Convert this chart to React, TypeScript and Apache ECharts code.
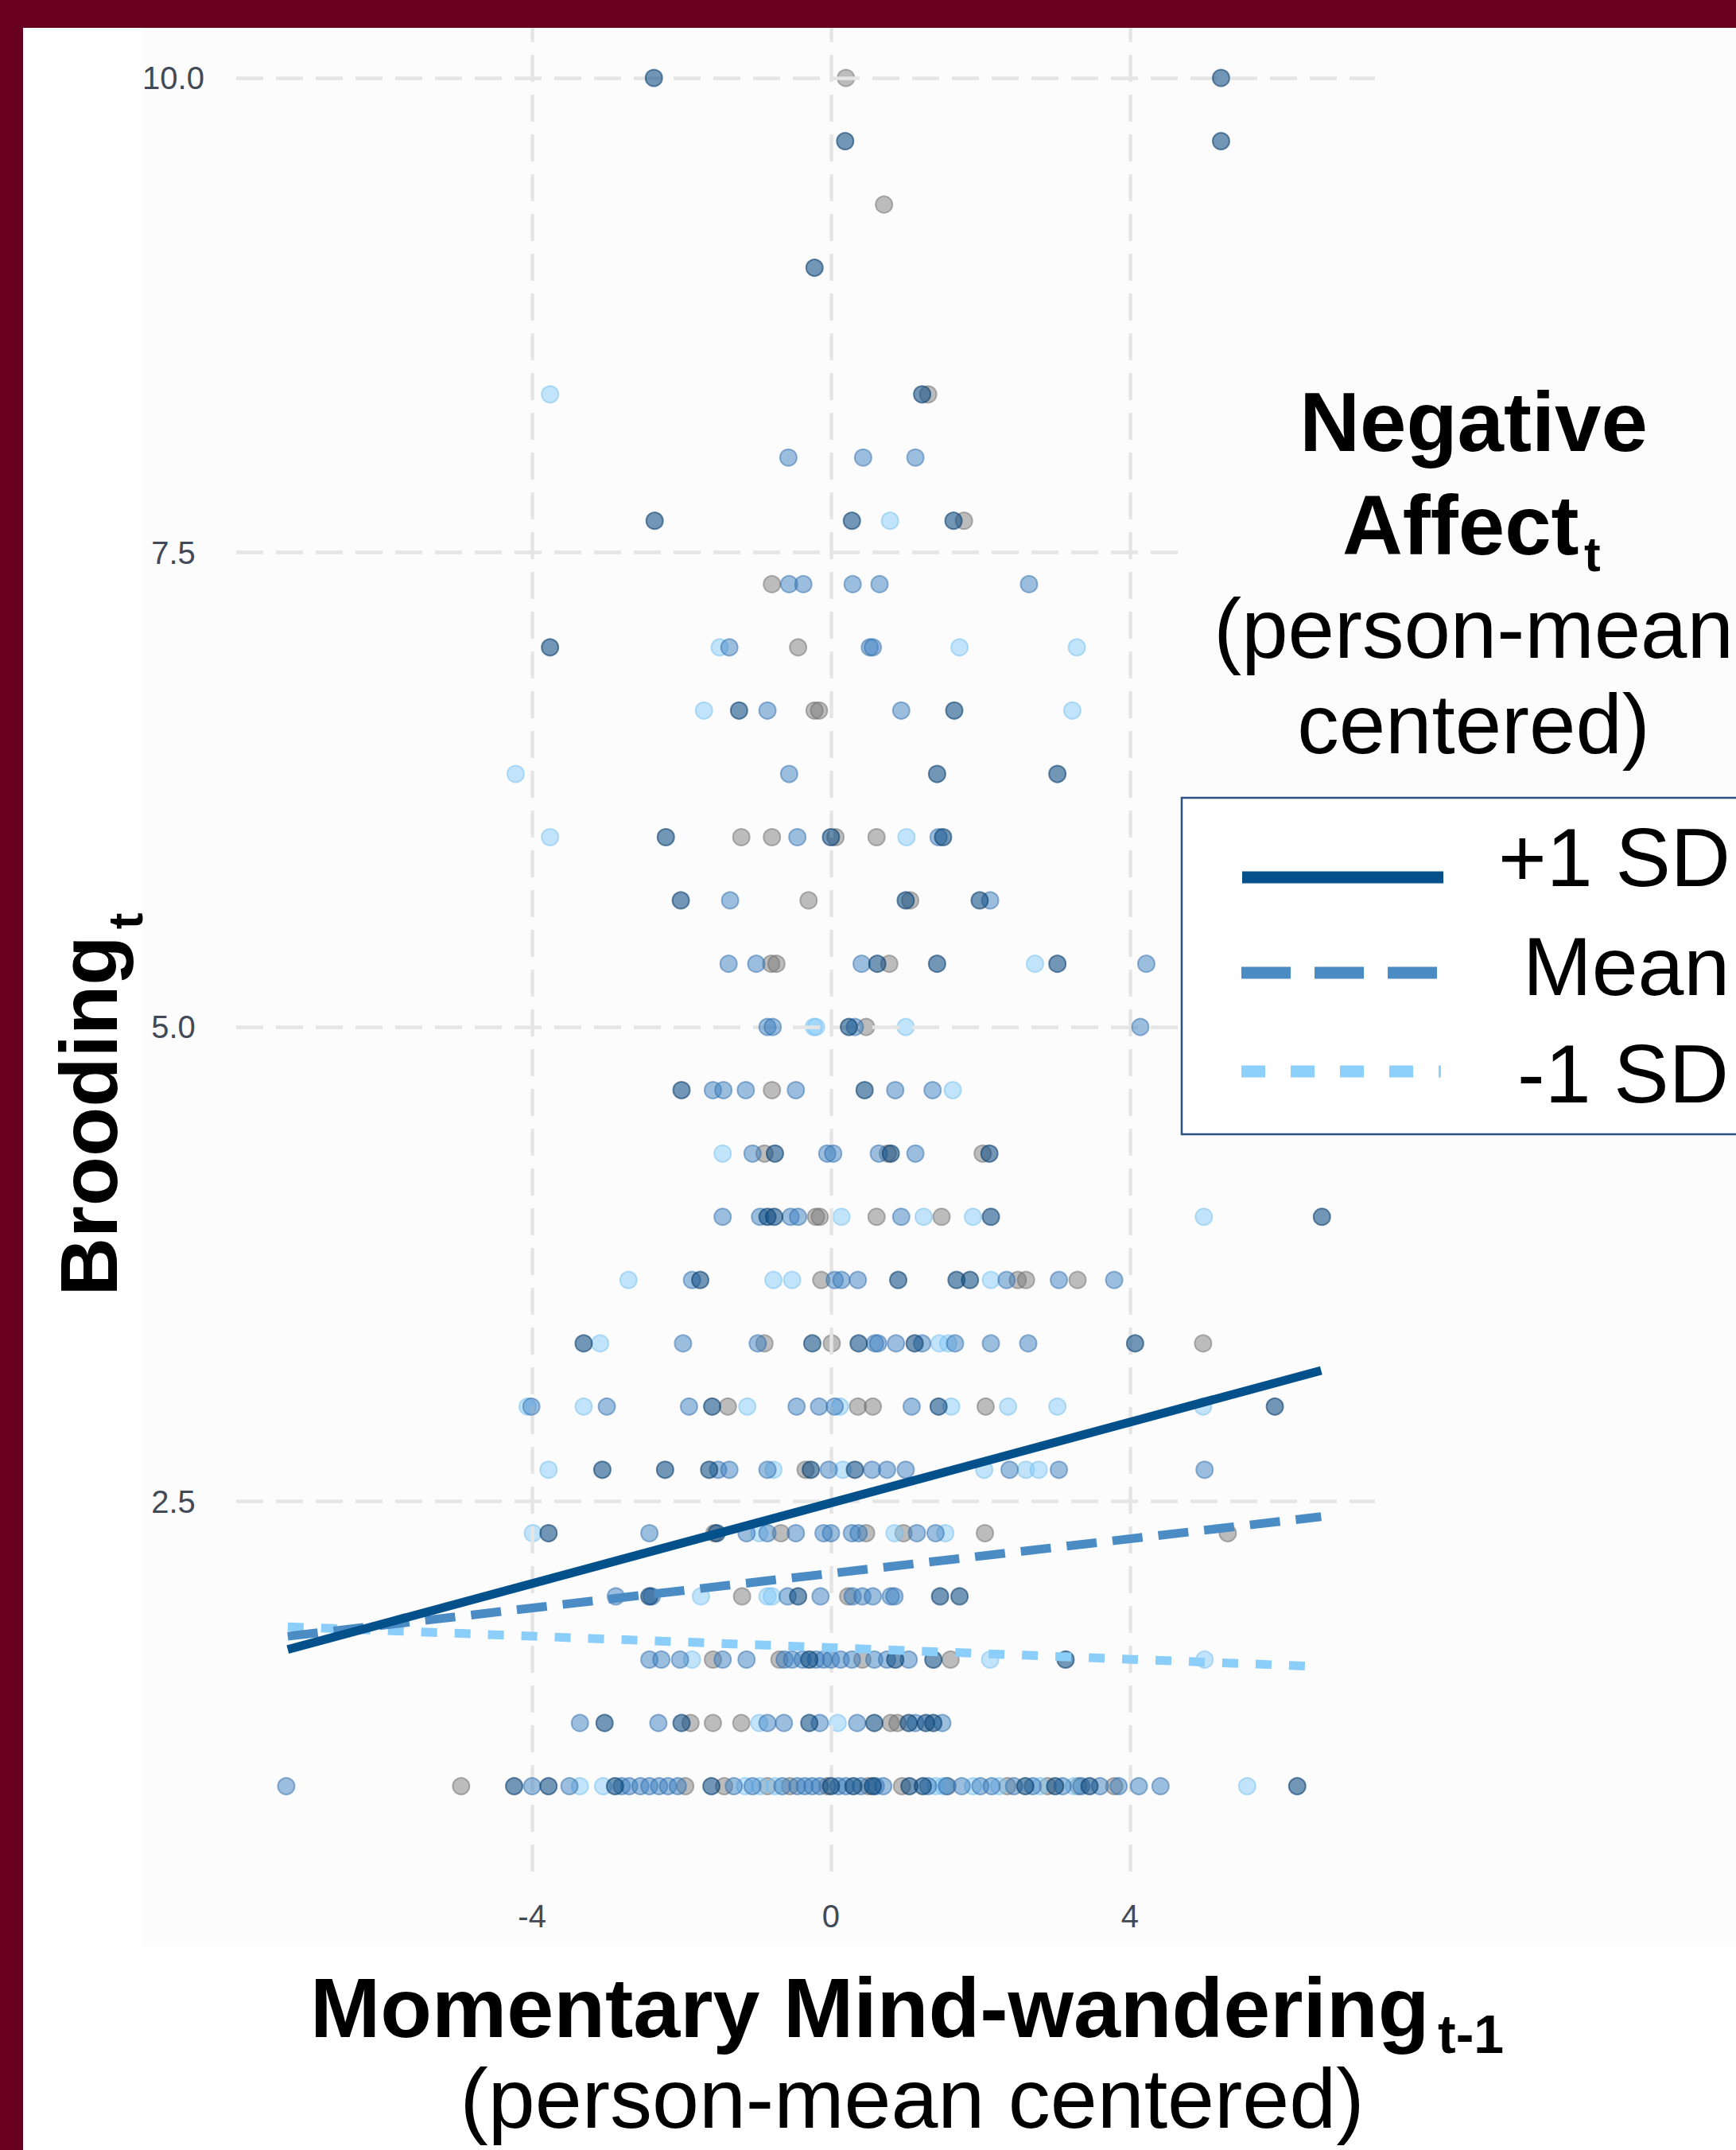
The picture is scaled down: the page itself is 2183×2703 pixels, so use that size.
import React, { useEffect, useRef } from "react";
import * as echarts from "echarts";

const W = 2183;
const H = 2703;

// ---- axes ----
const xTicks = [-4, 0, 4];
const yTicks = [2.5, 5, 7.5, 10];
const xRange = [-7.96, 7.28];
const yRange = [0.55, 10.264];

// ---- simple-slope lines (x, y endpoints) ----
const plusSDLine = [[-7.27, 1.72], [6.56, 3.19]];
const meanLine = [[-7.27, 1.79], [6.56, 2.42]];
const minusSDLine = [[-7.27, 1.84], [6.56, 1.63]];

// ---- points: [y level, x values] ----
const darkRows: [number, number[]][] = [
  [10, [-2.37, 5.22]],
  [9.667, [0.19, 5.22]],
  [9.0, [-0.22]],
  [8.333, [1.22]],
  [7.667, [-2.36, 0.28, 1.64]],
  [7.0, [-3.76]],
  [6.667, [-1.23, 1.65]],
  [6.333, [1.42, 3.03]],
  [6.0, [-2.21, 0.0, 1.5]],
  [5.667, [-2.01, 1.0, 1.99]],
  [5.333, [0.62, 1.42, 3.03]],
  [5.0, [0.24]],
  [4.667, [-2.0, 0.45]],
  [4.333, [-0.75, 0.8, 2.12]],
  [4.0, [-0.85, -0.76, 2.14, 6.57]],
  [3.667, [-1.75, 0.9, 1.68, 1.86]],
  [3.333, [-3.31, -0.25, 0.37, 1.12, 4.07]],
  [3.0, [-1.59, 1.44, 5.94]],
  [2.667, [-3.06, -2.22, -1.63, -0.27, 0.32]],
  [2.333, [-3.78, -1.53]],
  [2.0, [-2.43, -0.44, 1.46, 1.72]],
  [1.667, [-0.29, 0.86, 1.37, 3.14]],
  [1.333, [-3.03, -2.0, -0.29, 0.58, 1.04, 1.27, 1.37]],
  [1.0, [-4.24, -3.78, -2.89, -1.6, 0.0, 0.3, 0.56, 1.05, 1.23, 2.6, 3.0, 3.46, 6.24]],
];

const mediumRows: [number, number[]][] = [
  [8.0, [-0.57, 0.43, 1.13]],
  [7.333, [-0.56, -0.37, 0.29, 0.65, 2.65]],
  [7.0, [-1.36, 0.52, 0.56]],
  [6.667, [-0.85, 0.94]],
  [6.333, [-0.56]],
  [6.0, [-0.45, 1.44]],
  [5.667, [-1.35, 2.13]],
  [5.333, [-1.37, -1.0, 0.41, 4.22]],
  [5.0, [-0.85, -0.78, 0.32, 4.14]],
  [4.667, [-1.58, -1.44, -1.14, -0.47, 0.86, 1.36]],
  [4.333, [-1.05, -0.05, 0.03, 0.64, 1.13]],
  [4.0, [-1.45, -0.95, -0.54, -0.44, 0.94]],
  [3.667, [-1.86, 0.05, 0.14, 0.36, 2.35, 3.05, 3.79]],
  [3.333, [-1.98, -0.98, 0.59, 0.63, 0.87, 1.22, 1.66, 2.14, 2.64]],
  [3.0, [-4.01, -3.0, -1.9, -0.46, -0.16, 0.05, 1.08]],
  [2.667, [-1.51, -1.36, -0.85, -0.03, 0.55, 0.75, 1.0, 2.39, 3.05, 5.0]],
  [2.333, [-2.43, -1.13, -0.85, -0.47, -0.1, 0.0, 0.28, 0.37, 1.15, 1.4]],
  [2.0, [-2.88, -2.4, -0.58, -0.14, 0.29, 0.42, 0.56, 0.8, 0.85]],
  [1.667, [-2.43, -2.27, -2.02, -1.45, -1.13, -0.62, -0.52, -0.38, -0.2, -0.1, 0.0, 0.13, 0.28, 0.58, 0.75, 1.04]],
  [1.333, [-3.36, -2.31, -0.85, -0.63, -0.15, 0.35, 1.13, 1.49]],
  [1.0, [-7.29, -4.0, -3.5, -2.8, -2.7, -2.55, -2.43, -2.3, -2.18, -2.05, -1.3, -1.05, -0.65, -0.45, -0.35, -0.25, -0.15, 0.1, 0.2, 0.4, 0.6, 0.7, 1.3, 1.55, 1.75, 2.0, 2.15, 2.45, 2.7, 3.1, 3.35, 3.6, 3.85, 4.12, 4.41]],
];

const lightRows: [number, number[]][] = [
  [8.333, [-3.76]],
  [7.667, [0.79]],
  [7.0, [-1.49, 1.72, 3.29]],
  [6.667, [-1.7, 3.23]],
  [6.333, [-4.22]],
  [6.0, [-3.76, 1.01]],
  [5.333, [2.73]],
  [5.0, [-0.23, -0.2, 1.0]],
  [4.667, [1.63]],
  [4.333, [-1.45]],
  [4.0, [0.14, 1.24, 1.9, 4.99]],
  [3.667, [-2.71, -0.77, -0.52, 2.14]],
  [3.333, [-3.09, 1.45, 1.57]],
  [3.0, [-4.06, -3.31, -1.12, 0.12, 1.61, 2.37, 3.03, 4.98]],
  [2.667, [-3.78, -0.77, 0.16, 2.05, 2.61, 2.78]],
  [2.333, [-3.99, -0.96, 0.85, 1.53]],
  [2.0, [-1.74, -0.85, -0.79]],
  [1.667, [-1.86, 2.13, 5.0]],
  [1.333, [-0.96, 0.09]],
  [1.0, [-3.36, -3.05, -1.15, -0.95, -0.75, 1.4, 1.5, 1.9, 2.25, 2.8, 3.25, 5.57]],
];

const grayRows: [number, number[]][] = [
  [10, [0.2]],
  [9.333, [0.71]],
  [8.333, [1.3]],
  [7.667, [1.78]],
  [7.333, [-0.79]],
  [7.0, [-0.44]],
  [6.667, [-0.22, -0.16]],
  [6.0, [-1.2, -0.79, 0.06, 0.61]],
  [5.667, [-0.3, 1.06]],
  [5.333, [-0.8, -0.73, 0.78]],
  [5.0, [0.47]],
  [4.667, [-0.79]],
  [4.333, [-0.89, 0.76, 2.03]],
  [4.0, [-0.2, -0.15, 0.61, 1.48]],
  [3.667, [-0.13, 2.5, 2.61, 3.3]],
  [3.333, [-0.89, 0.01, 4.98]],
  [3.0, [-1.38, 0.36, 0.56, 2.07]],
  [2.667, [-0.34]],
  [2.333, [-1.56, -0.67, 0.47, 0.97, 2.06, 5.31]],
  [2.0, [-1.19, 0.23]],
  [1.667, [-1.58, -0.69, 0.42, 1.6]],
  [1.333, [-1.88, -1.58, -1.2, 0.8, 0.89]],
  [1.0, [-4.95, -1.95, -1.43, -0.85, -0.55, -0.05, 0.5, 0.95, 1.56, 2.36, 2.9, 3.31, 3.79]],
];

const legendLabels = ["+1 SD", "Mean", "-1 SD"];

function flatten(rows: [number, number[]][]) {
  const out: number[][] = [];
  rows.forEach(([y, xs]) => xs.forEach((x) => out.push([x, y])));
  return out;
}

const FONT = "'Liberation Sans', Arial, Helvetica, sans-serif";
const PANEL_BG = "#fcfcfc";

function scatter(name: string, rows: [number, number[]][], fill: string, stroke: string, z: number) {
  return {
    type: "scatter",
    name,
    data: flatten(rows),
    symbol: "circle",
    symbolSize: 21,
    z,
    silent: true,
    itemStyle: { color: fill, borderColor: stroke, borderWidth: 2 },
  };
}

function slope(name: string, data: number[][], color: string, width: number, type: any) {
  return {
    type: "line",
    name,
    data,
    showSymbol: false,
    symbol: "none",
    silent: true,
    z: 10,
    lineStyle: { color, width, type, cap: "butt" },
  };
}

function txt(
  text: string,
  x: number,
  y: number,
  size: number,
  bold: boolean,
  align: string,
  extra: any = {},
  lineHeight?: number
) {
  return {
    type: "text",
    z: 52,
    x,
    y,
    silent: true,
    ...extra,
    style: {
      text,
      fontSize: size,
      fontWeight: bold ? "bold" : "normal",
      fontFamily: FONT,
      fill: "#000",
      align,
      verticalAlign: "middle",
      lineHeight: lineHeight ?? size,
    },
  };
}

export default function App() {
  const ref = useRef<HTMLDivElement>(null);

  useEffect(() => {
    document.body.style.margin = "0";
    if (!ref.current) return;
    const chart = echarts.init(ref.current, undefined, { renderer: "svg" });

    const gridStyle = { color: "#e5e5e5", width: 4.5, type: [34, 16] };

    const option: any = {
      animation: false,
      backgroundColor: "#ffffff",
      grid: { left: 297, right: W - 1729, top: 35, bottom: H - 2353, containLabel: false },
      xAxis: {
        type: "value",
        min: xRange[0],
        max: xRange[1],
        axisLine: { show: false },
        axisTick: { show: false },
        splitLine: { show: false },
        axisLabel: {
          customValues: xTicks,
          formatter: (v: number) => String(v),
          fontSize: 40,
          fontFamily: FONT,
          color: "#414a56",
          margin: 36,
        },
      },
      yAxis: {
        type: "value",
        min: yRange[0],
        max: yRange[1],
        axisLine: { show: false },
        axisTick: { show: false },
        splitLine: { show: false },
        axisLabel: {
          customValues: yTicks,
          formatter: (v: number) => v.toFixed(1),
          fontSize: 40,
          fontFamily: FONT,
          color: "#414a56",
          align: "center",
          margin: 79,
        },
      },
      series: [
        {
          type: "scatter",
          name: "grid",
          data: [],
          silent: true,
          z: 1,
          markLine: {
            silent: true,
            symbol: ["none", "none"],
            label: { show: false },
            lineStyle: gridStyle,
            emphasis: { disabled: true },
            data: [
              ...yTicks.map((v) => ({ yAxis: v })),
              ...xTicks.map((v) => ({ xAxis: v })),
            ],
          },
        },
        scatter("gray", grayRows, "rgba(119,119,119,0.6)", "rgba(105,105,105,0.62)", 3),
        scatter("light", lightRows, "rgba(127,202,248,0.58)", "rgba(105,185,238,0.58)", 4),
        scatter("medium", mediumRows, "rgba(58,127,192,0.62)", "rgba(42,105,170,0.62)", 5),
        scatter("dark", darkRows, "rgba(13,74,128,0.72)", "rgba(8,60,108,0.74)", 6),
        slope(legendLabels[2], minusSDLine, "#8ccefa", 11, [20, 22]),
        slope(legendLabels[1], meanLine, "#4b8cc5", 11, [38, 20]),
        slope(legendLabels[0], plusSDLine, "#03508b", 11, "solid"),
      ],
      graphic: [
        {
          type: "rect",
          z: -1,
          silent: true,
          shape: { x: 179, y: 35, width: W - 179, height: 2447 - 35 },
          style: { fill: PANEL_BG },
        },
        {
          type: "rect",
          z: 50,
          silent: true,
          shape: { x: 1486, y: 450, width: W - 1486, height: 560 },
          style: { fill: PANEL_BG },
        },
        {
          type: "rect",
          z: 50,
          silent: true,
          shape: { x: 1486, y: 1003, width: 760, height: 423 },
          style: { fill: "#ffffff", stroke: "#2b5283", lineWidth: 2.5 },
        },
        {
          type: "line",
          z: 51,
          silent: true,
          shape: { x1: 1562, y1: 1103, x2: 1815, y2: 1103 },
          style: { stroke: "#05508a", lineWidth: 15 },
        },
        {
          type: "line",
          z: 51,
          silent: true,
          shape: { x1: 1561, y1: 1223, x2: 1812, y2: 1223 },
          style: { stroke: "#4b8cc4", lineWidth: 15, lineDash: [62, 30] },
        },
        {
          type: "line",
          z: 51,
          silent: true,
          shape: { x1: 1561, y1: 1347, x2: 1812, y2: 1347 },
          style: { stroke: "#8dd0fb", lineWidth: 15, lineDash: [30, 32] },
        },
        txt(legendLabels[0], 1884, 1078, 104, false, "left", {}, 100),
        txt(legendLabels[1], 1915, 1215, 104, false, "left", {}, 100),
        txt(legendLabels[2], 1908, 1350, 104, false, "left", {}, 100),
        // legend title
        txt("Negative", 1853, 530, 105, true, "center", {}, 100),
        txt("Affect", 1688, 660, 105, true, "left", {}, 100),
        txt("t", 1992, 696, 62, true, "left", {}, 44),
        txt("(person-mean", 1853, 790, 105, false, "center", {}, 96),
        txt("centered)", 1853, 910, 105, false, "center", {}, 96),
        // x title
        txt("Momentary Mind-wandering", 390, 2524, 106, true, "left", {}, 100),
        txt("t-1", 1808, 2557, 68, true, "left", {}, 50),
        txt("(person-mean centered)", 1147, 2638, 106, false, "center", {}, 90),
        // y title
        txt("Brooding", 112, 1403, 102, true, "center", { rotation: Math.PI / 2 }, 100),
        txt("t", 157, 1158, 62, true, "center", { rotation: Math.PI / 2 }, 44),
        // maroon frame
        {
          type: "rect",
          z: 100,
          silent: true,
          shape: { x: 0, y: 0, width: W, height: 35 },
          style: { fill: "#6a0020" },
        },
        {
          type: "rect",
          z: 100,
          silent: true,
          shape: { x: 0, y: 0, width: 29, height: H },
          style: { fill: "#6a0020" },
        },
      ],
    };

    chart.setOption(option);
    return () => chart.dispose();
  }, []);

  return (
    <div
      ref={ref}
      style={{ position: "absolute", left: 0, top: 0, width: W, height: H }}
    />
  );
}
